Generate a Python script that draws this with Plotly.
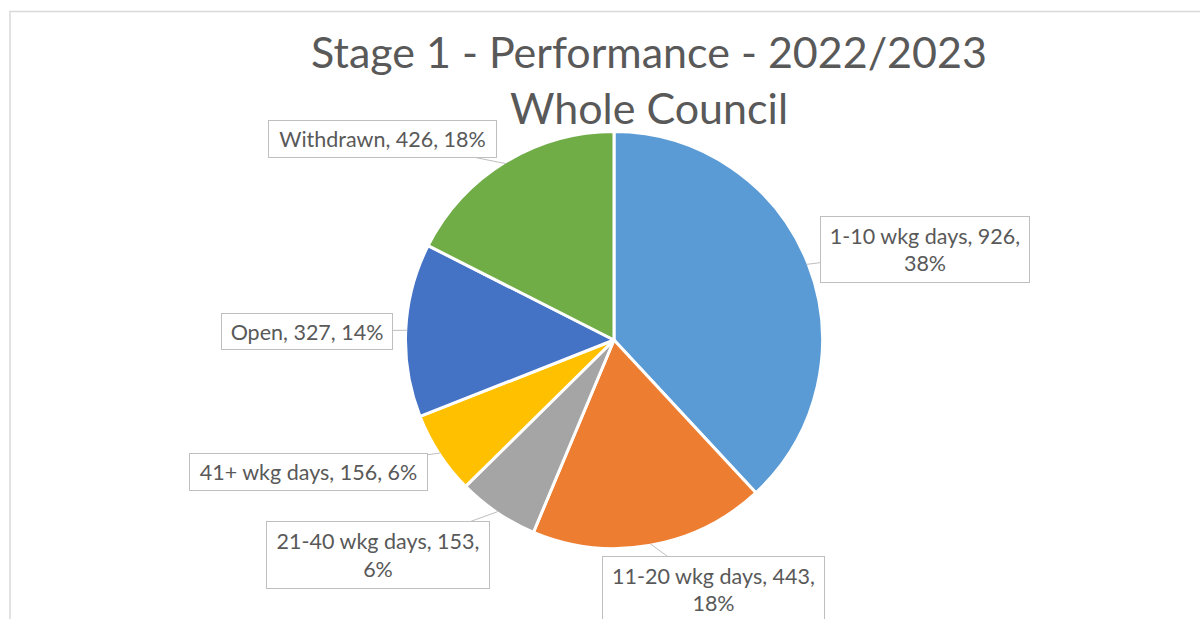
import math
import plotly.graph_objects as go

categories = ["1-10 wkg days", "11-20 wkg days", "21-40 wkg days", "41+ wkg days", "Open", "Withdrawn"]
values = [926, 443, 153, 156, 327, 426]
percent_labels = ["38%", "18%", "6%", "6%", "14%", "18%"]
colors = ["#5B9BD5", "#ED7D31", "#A5A5A5", "#FFC000", "#4472C4", "#70AD47"]

W, H = 1200, 619
# pie geometry (pixels)
cx, cy, R = 614, 340, 207

# label box layout: (center x, center y, width, height, line break)
label_layout = [
    (925, 249.5, 210, 67, True),
    (713.5, 589.5, 223, 67, True),
    (378, 555, 224, 68, True),
    (308.5, 472, 239, 38, False),
    (307, 331.5, 172, 37, False),
    (382.5, 139, 229, 38, False),
]

Rd = R + 1.5
fig = go.Figure(go.Pie(
    labels=categories, values=values, sort=False, direction="clockwise", rotation=0,
    marker=dict(colors=colors, line=dict(color="white", width=3)),
    textinfo="none", hoverinfo="label+value+percent", showlegend=False,
    domain=dict(x=[(cx - Rd) / W, (cx + Rd) / W], y=[(H - cy - Rd) / H, (H - cy + Rd) / H]),
))

total = sum(values)
cum = 0
annotations = []
for cat, v, pct, (lx, ly, bw, bh, brk) in zip(categories, values, percent_labels, label_layout):
    mid = (cum + v / 2) / total * 2 * math.pi
    cum += v
    tx = cx + R * math.sin(mid)
    ty = cy - R * math.cos(mid)
    sep = ",<br>" if brk else ", "
    text = f"{cat}, {v}{sep}{pct}"
    annotations.append(dict(
        x=tx / W, y=1 - ty / H, xref="paper", yref="paper",
        ax=lx - tx, ay=ly - ty, axref="pixel", ayref="pixel",
        text=text, showarrow=True, arrowhead=0, arrowwidth=1, arrowcolor="#BFBFBF",
        standoff=0, bgcolor="white", bordercolor="#BFBFBF", borderwidth=1, borderpad=0,
        width=bw - 2, height=bh - 2, align="center",
        font=dict(family="Lato, Calibri, sans-serif", size=21.5, color="#595959"),
    ))

fig.update_layout(
    width=W, height=H, margin=dict(l=0, r=0, t=0, b=0),
    paper_bgcolor="white", plot_bgcolor="white",
    title=dict(text="Stage 1 - Performance - 2022/2023<br>Whole Council",
               x=649 / W, xanchor="center", y=1 - 68 / H, yanchor="top", yref="container",
               font=dict(family="Lato, Calibri, sans-serif", size=43, color="#595959")),
    annotations=annotations,
    shapes=[dict(type="rect", xref="paper", yref="paper", x0=10 / W, x1=1.05, y0=-0.05, y1=1 - 11.5 / H,
                 line=dict(color="#D9D9D9", width=1.5), fillcolor="rgba(0,0,0,0)", layer="below")],
)

fig.write_html("out.html", post_script="document.body.style.margin='0';",
               config={"displayModeBar": False})
